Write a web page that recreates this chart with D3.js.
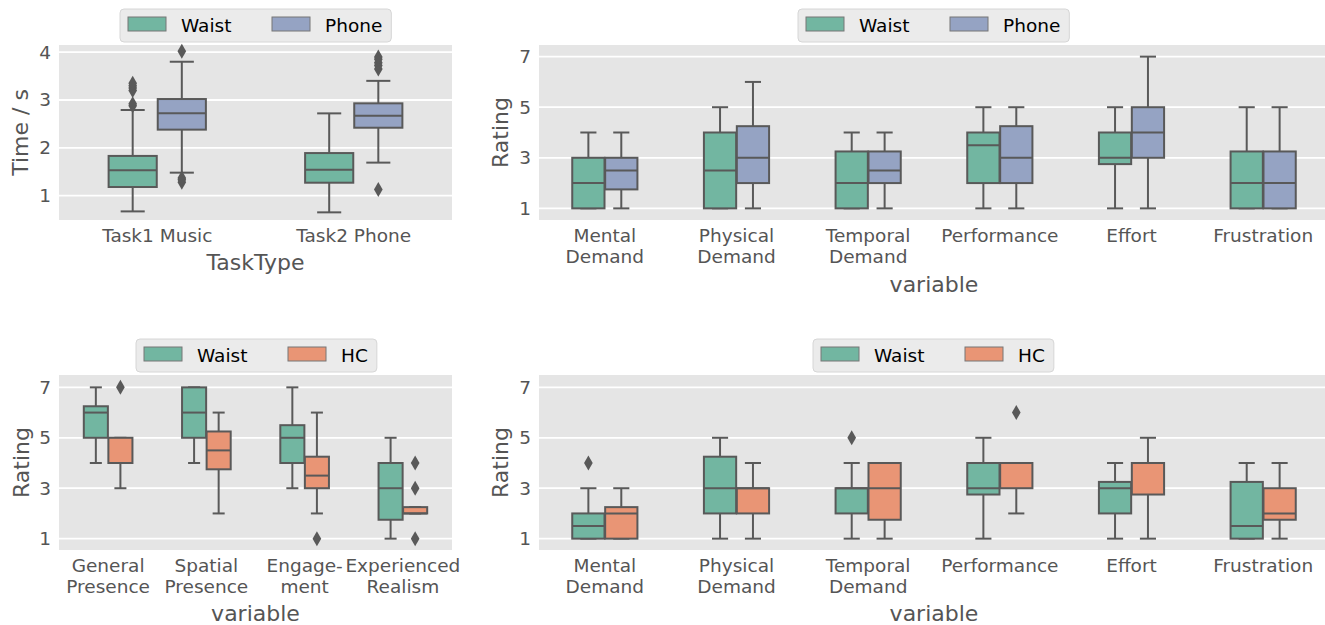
<!DOCTYPE html>
<html>
<head>
<meta charset="utf-8">
<script src="https://cdn.jsdelivr.net/npm/d3@7"></script>
<style>
  body { margin: 0; background: #fff; }
  text { font-family: "DejaVu Sans", sans-serif; }
</style>
</head>
<body>
<div id="chart"></div>
<script>
// ---- data: box stats are [whiskerLow, q1, median, q3, whiskerHigh] ----
var timeCategories = [["Task1 Music"], ["Task2 Phone"]];
var timeWaist = [[0.67, 1.18, 1.53, 1.83, 2.79], [0.65, 1.27, 1.54, 1.89, 2.72]];
var timePhone = [[1.48, 2.38, 2.72, 3.02, 3.80], [1.69, 2.42, 2.67, 2.93, 3.40]];
var timeWaistOut = [[2.88, 2.92, 3.2, 3.25, 3.3, 3.35], []];
var timePhoneOut = [[1.28, 1.33, 1.37, 4.02], [1.13, 3.65, 3.72, 3.78, 3.85, 3.9]];
var timeTicks = [1, 2, 3, 4];

var tlxCategories = [["Mental", "Demand"], ["Physical", "Demand"], ["Temporal", "Demand"],
                     ["Performance"], ["Effort"], ["Frustration"]];
var tlxPhoneWaist = [[1, 1, 2, 3, 4], [1, 1, 2.5, 4, 5], [1, 1, 2, 3.25, 4],
                     [1, 2, 3.5, 4, 5], [1, 2.75, 3, 4, 5], [1, 1, 2, 3.25, 5]];
var tlxPhonePhone = [[1, 1.75, 2.5, 3, 4], [1, 2, 3, 4.25, 6], [1, 2, 2.5, 3.25, 4],
                     [1, 2, 3, 4.25, 5], [1, 3, 4, 5, 7], [1, 1, 2, 3.25, 5]];
var tlxPhoneWaistOut = [[], [], [], [], [], []];
var tlxPhonePhoneOut = [[], [], [], [], [], []];

var presCategories = [["General", "Presence"], ["Spatial", "Presence"], ["Engage-", "ment"], ["Experienced", "Realism"]];
var presWaist = [[4, 5, 6, 6.25, 7], [4, 5, 6, 7, 7], [3, 4, 5, 5.5, 7], [1, 1.75, 3, 4, 5]];
var presHC = [[3, 4, 4, 5, 5], [2, 3.75, 4.5, 5.25, 6], [2, 3, 3.5, 4.25, 6], [2, 2, 2, 2.25, 2.25]];
var presWaistOut = [[], [], [], []];
var presHCOut = [[7], [], [1], [1, 3, 4]];

var tlxHCWaist = [[1, 1, 1.5, 2, 3], [1, 2, 3, 4.25, 5], [1, 2, 3, 3, 4],
                  [1, 2.75, 3, 4, 5], [1, 2, 3, 3.25, 4], [1, 1, 1.5, 3.25, 4]];
var tlxHCHC = [[1, 1, 2, 2.25, 3], [1, 2, 3, 3, 4], [1, 1.75, 3, 4, 4],
               [2, 3, 4, 4, 4], [1, 2.75, 4, 4, 5], [1, 1.75, 2, 3, 4]];
var tlxHCWaistOut = [[4], [], [5], [], [], []];
var tlxHCHCOut = [[], [], [], [6], [], []];

var ratingTicks = [1, 3, 5, 7];

var colWaist = "#72b6a1", colPhone = "#95a3c3", colHC = "#e99575";
var edge = "#595959";

var svg = d3.select("#chart").append("svg")
  .attr("width", 1325).attr("height", 625);

function panel(o) {
  var g = svg.append("g");
  var x = d3.scaleBand().domain(d3.range(o.categories.length)).range([o.x0, o.x1]);
  var bw = x.bandwidth();
  var hue = d3.scaleBand().domain([0, 1]).range([-bw * 0.25, bw * 0.25]);
  var boxW = hue.bandwidth() * 0.98;
  var y = d3.scaleLinear().domain(o.domain).range([o.y1, o.y0]);

  // background + grid
  g.append("rect").attr("x", o.x0).attr("y", o.y0)
    .attr("width", o.x1 - o.x0).attr("height", o.y1 - o.y0).attr("fill", "#e5e5e5");
  g.selectAll(".grid").data(o.ticks).enter().append("line")
    .attr("x1", o.x0).attr("x2", o.x1)
    .attr("y1", function(d) { return y(d); }).attr("y2", function(d) { return y(d); })
    .attr("stroke", "#fff").attr("stroke-width", 1.8);

  // y tick labels
  g.selectAll(".ytick").data(o.ticks).enter().append("text")
    .attr("x", o.x0 - 8).attr("y", function(d) { return y(d) + 6.5; })
    .attr("text-anchor", "end").attr("fill", "#555").attr("font-size", "18.5px")
    .text(function(d) { return d; });

  // x tick labels
  o.categories.forEach(function(lines, i) {
    var t = g.append("text").attr("text-anchor", "middle").attr("fill", "#555")
      .attr("font-size", "18.5px");
    lines.forEach(function(s, j) {
      t.append("tspan").attr("x", x(i) + bw / 2).attr("y", o.y1 + 22 + j * 21).text(s);
    });
  });

  // axis labels
  g.append("text").attr("x", (o.x0 + Math.min(o.x1, 1325)) / 2 + (o.xlabelShift || 0))
    .attr("y", o.y1 + o.xlabelOffset)
    .attr("text-anchor", "middle").attr("fill", "#555").attr("font-size", "22px").text(o.xlabel);
  g.append("text").attr("transform", "translate(" + o.ylabelX + "," + (o.y0 + o.y1) / 2 + ") rotate(-90)")
    .attr("text-anchor", "middle").attr("fill", "#555").attr("font-size", "22px").text(o.ylabel);

  // boxes
  o.series.forEach(function(s, h) {
    s.stats.forEach(function(st, i) {
      var cx = x(i) + bw / 2 + hue(h) + hue.bandwidth() / 2;
      var bg = g.append("g");
      bg.append("line").attr("x1", cx).attr("x2", cx).attr("y1", y(st[0])).attr("y2", y(st[1]))
        .attr("stroke", edge).attr("stroke-width", 2);
      bg.append("line").attr("x1", cx).attr("x2", cx).attr("y1", y(st[3])).attr("y2", y(st[4]))
        .attr("stroke", edge).attr("stroke-width", 2);
      [st[0], st[4]].forEach(function(v) {
        bg.append("line").attr("x1", cx - boxW / 4).attr("x2", cx + boxW / 4)
          .attr("y1", y(v)).attr("y2", y(v)).attr("stroke", edge).attr("stroke-width", 2);
      });
      bg.append("rect").attr("x", cx - boxW / 2).attr("width", boxW)
        .attr("y", y(st[3])).attr("height", Math.max(0, y(st[1]) - y(st[3])))
        .attr("fill", s.color).attr("stroke", edge).attr("stroke-width", 2);
      bg.append("line").attr("x1", cx - boxW / 2).attr("x2", cx + boxW / 2)
        .attr("y1", y(st[2])).attr("y2", y(st[2])).attr("stroke", edge).attr("stroke-width", 2);
      s.outliers[i].forEach(function(v) {
        bg.append("path").attr("d", d3.symbol(d3.symbolDiamond, 65)())
          .attr("transform", "translate(" + cx + "," + y(v) + ")")
          .attr("fill", edge);
      });
    });
  });

  // legend
  var lg = g.append("g").attr("transform", "translate(" + o.legendX + "," + (o.y0 - 36) + ")");
  var frame = lg.append("rect").attr("x", 0).attr("y", 0).attr("height", 33).attr("rx", 4)
    .attr("fill", "#ebebeb").attr("stroke", "#d6d6d6").attr("stroke-width", 1);
  var endX = 0;
  o.series.forEach(function(s, h) {
    var ox = 8 + h * 144;
    lg.append("rect").attr("x", ox).attr("y", 8).attr("width", 38).attr("height", 14)
      .attr("fill", s.color).attr("stroke", "#777").attr("stroke-width", 1);
    var t = lg.append("text").attr("x", ox + 53).attr("y", 23).attr("fill", "#000")
      .attr("font-size", "18.5px").text(s.name);
    endX = ox + 53 + t.node().getComputedTextLength();
  });
  frame.attr("width", endX + 9);
}

panel({
  x0: 59, x1: 452, y0: 45, y1: 220, domain: [0.49, 4.15], ticks: timeTicks,
  categories: timeCategories, xlabel: "TaskType", ylabel: "Time / s",
  xlabelOffset: 50, ylabelX: 28, legendX: 120,
  series: [{ name: "Waist", color: colWaist, stats: timeWaist, outliers: timeWaistOut },
           { name: "Phone", color: colPhone, stats: timePhone, outliers: timePhoneOut }]
});

panel({
  x0: 539, x1: 1329, y0: 45, y1: 220, domain: [0.54, 7.46], ticks: ratingTicks,
  categories: tlxCategories, xlabel: "variable", ylabel: "Rating",
  xlabelOffset: 72, xlabelShift: 2, ylabelX: 508, legendX: 798,
  series: [{ name: "Waist", color: colWaist, stats: tlxPhoneWaist, outliers: tlxPhoneWaistOut },
           { name: "Phone", color: colPhone, stats: tlxPhonePhone, outliers: tlxPhonePhoneOut }]
});

panel({
  x0: 59, x1: 452, y0: 375, y1: 550, domain: [0.55, 7.49], ticks: ratingTicks,
  categories: presCategories, xlabel: "variable", ylabel: "Rating",
  xlabelOffset: 71, ylabelX: 29, legendX: 136,
  series: [{ name: "Waist", color: colWaist, stats: presWaist, outliers: presWaistOut },
           { name: "HC", color: colHC, stats: presHC, outliers: presHCOut }]
});

panel({
  x0: 539, x1: 1329, y0: 375, y1: 550, domain: [0.55, 7.49], ticks: ratingTicks,
  categories: tlxCategories, xlabel: "variable", ylabel: "Rating",
  xlabelOffset: 71, xlabelShift: 2, ylabelX: 508, legendX: 813,
  series: [{ name: "Waist", color: colWaist, stats: tlxHCWaist, outliers: tlxHCWaistOut },
           { name: "HC", color: colHC, stats: tlxHCHC, outliers: tlxHCHCOut }]
});
</script>
</body>
</html>
